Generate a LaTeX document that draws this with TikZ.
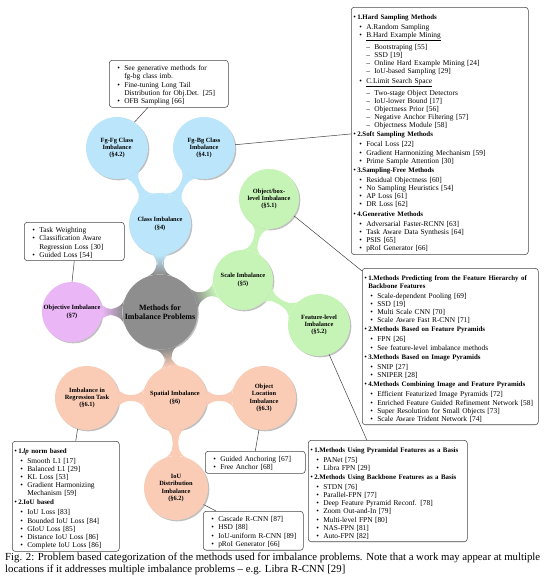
\documentclass[tikz,border=0pt]{standalone}
\usepackage{fontspec}
\setmainfont{Liberation Serif}
\usepackage{tikz}
\usetikzlibrary{mindmap,shadows,positioning,calc}

\definecolor{ctrgray}{RGB}{142,142,142}
\definecolor{clsblue}{RGB}{186,229,250}
\definecolor{sclgreen}{RGB}{198,244,182}
\definecolor{objpurple}{RGB}{234,182,246}
\definecolor{spasalmon}{RGB}{250,204,182}

% list lines inside the boxes
\newcommand{\boxhead}[1]{\par\vspace{1.2pt}\noindent\hangindent=4pt\hangafter=1\makebox[4pt][l]{\textbullet}{\fontsize{6.9}{8.1}\selectfont\bfseries #1}\par\vspace{2pt}}
\newcommand{\boxitem}[1]{\par\noindent\hangindent=13pt\hangafter=1\hspace*{6pt}\makebox[7pt][l]{\textbullet}#1}
\newcommand{\boxsub}[1]{\par\noindent\hangindent=21pt\hangafter=1\hspace*{13pt}\makebox[8pt][l]{--}#1}
\newcommand{\boxgap}{\par\vspace{2pt}}

\tikzset{
  cpt/.style={circle, inner sep=0pt, minimum size=62pt, align=center,
    font=\fontsize{6.4}{7.3}\selectfont\bfseries,
    drop shadow={shadow xshift=1.3pt, shadow yshift=-1.3pt, opacity=0.45, fill=black!55}},
  infobox/.style={draw=black!72, line width=0.55pt, rounded corners=3pt, fill=white,
    inner xsep=2pt, inner ysep=2.5pt, text width=#1, align=left, anchor=north west,
    font=\fontsize{7.4}{8.1}\selectfont},
  conn/.style={draw=black!75, line width=0.5pt}
}

\begin{document}
\begin{tikzpicture}[x=1pt,y=-1pt]
\useasboundingbox (0,0) rectangle (554,581);

% concepts
\node[cpt, fill=ctrgray, minimum size=75pt, font=\fontsize{8}{9}\selectfont\bfseries] (ctr) at (160,312) {Methods for\\Imbalance Problems};
\node[cpt, fill=clsblue] (cls) at (160,224) {Class Imbalance\\(\S4)};
\node[cpt, fill=clsblue] (fgfg) at (117,148) {Fg-Fg Class\\Imbalance\\(\S4.2)};
\node[cpt, fill=clsblue] (fgbg) at (204,148) {Fg-Bg Class\\Imbalance\\(\S4.1)};
\node[cpt, fill=objpurple, minimum size=60pt] (obj) at (72,312) {Objective Imbalance\\(\S7)};
\node[cpt, fill=sclgreen, minimum size=60pt] (scl) at (243,280) {Scale Imbalance\\(\S5)};
\node[cpt, fill=sclgreen, minimum size=60pt] (obox) at (269,199) {Object/box-\\level Imbalance\\(\S5.1)};
\node[cpt, fill=sclgreen] (feat) at (319,325) {Feature-level\\Imbalance\\(\S5.2)};
\node[cpt, fill=spasalmon, minimum size=64pt] (spa) at (175,398) {Spatial Imbalance\\(\S6)};
\node[cpt, fill=spasalmon, minimum size=64pt] (reg) at (87,398) {Imbalance in\\Regression Task\\(\S6.1)};
\node[cpt, fill=spasalmon, minimum size=64pt] (loc) at (264,398) {Object\\Location\\Imbalance\\(\S6.3)};
\node[cpt, fill=spasalmon, minimum size=64pt] (iou) at (176,488) {IoU\\Distribution\\Imbalance\\(\S6.2)};

% bars between concepts
\path (ctr) to[circle connection bar switch color=from (ctrgray) to (clsblue)] (cls);
\path (ctr) to[circle connection bar switch color=from (ctrgray) to (objpurple)] (obj);
\path (ctr) to[circle connection bar switch color=from (ctrgray) to (sclgreen)] (scl);
\path (ctr) to[circle connection bar switch color=from (ctrgray) to (spasalmon)] (spa);
\path (cls) to[circle connection bar switch color=from (clsblue) to (clsblue)] (fgfg);
\path (cls) to[circle connection bar switch color=from (clsblue) to (clsblue)] (fgbg);
\path (scl) to[circle connection bar switch color=from (sclgreen) to (sclgreen)] (obox);
\path (scl) to[circle connection bar switch color=from (sclgreen) to (sclgreen)] (feat);
\path (spa) to[circle connection bar switch color=from (spasalmon) to (spasalmon)] (reg);
\path (spa) to[circle connection bar switch color=from (spasalmon) to (spasalmon)] (loc);
\path (spa) to[circle connection bar switch color=from (spasalmon) to (spasalmon)] (iou);

% method boxes
\node[infobox=115pt] (fgfgbox) at (109,60) {%
  \boxitem{See generative methods for\newline fg-bg class imb.}
  \boxitem{Fine-tuning Long Tail\newline Distribution for Obj.Det. [25]}
  \boxitem{OFB Sampling [66]}};
\node[infobox=173pt] (hardbox) at (351,7) {%
  \boxhead{1.Hard Sampling Methods}
  \boxitem{A.Random Sampling}
  \boxitem{\underline{B.Hard Example Mining}}
  \boxgap
  \boxsub{Bootstraping [55]}
  \boxsub{SSD [19]}
  \boxsub{Online Hard Example Mining [24]}
  \boxsub{IoU-based Sampling [29]}
  \boxgap
  \boxitem{\underline{C.Limit Search Space}}
  \boxgap
  \boxsub{Two-stage Object Detectors}
  \boxsub{IoU-lower Bound [17]}
  \boxsub{Objectness Prior [56]}
  \boxsub{Negative Anchor Filtering [57]}
  \boxsub{Objectness Module [58]}
  \boxhead{2.Soft Sampling Methods}
  \boxitem{Focal Loss [22]}
  \boxitem{Gradient Harmonizing Mechanism [59]}
  \boxitem{Prime Sample Attention [30]}
  \boxhead{3.Sampling-Free Methods}
  \boxitem{Residual Objectness [60]}
  \boxitem{No Sampling Heuristics [54]}
  \boxitem{AP Loss [61]}
  \boxitem{DR Loss [62]}
  \boxhead{4.Generative Methods}
  \boxitem{Adversarial Faster-RCNN [63]}
  \boxitem{Task Aware Data Synthesis [64]}
  \boxitem{PSIS [65]}
  \boxitem{pRoI Generator [66]}};
\node[infobox=96pt] (objbox) at (24,222) {%
  \boxitem{Task Weighting}
  \boxitem{Classification Aware\newline Regression Loss [30]}
  \boxitem{Guided Loss [54]}};
\node[infobox=172pt] (scalebox) at (362,268) {%
  \boxhead{1.Methods Predicting from the Feature Hierarchy of\newline Backbone Features}
  \boxitem{Scale-dependent Pooling [69]}
  \boxitem{SSD [19]}
  \boxitem{Multi Scale CNN [70]}
  \boxitem{Scale Aware Fast R-CNN [71]}
  \boxhead{2.Methods Based on Feature Pyramids}
  \boxitem{FPN [26]}
  \boxitem{See feature-level imbalance methods}
  \boxhead{3.Methods Based on Image Pyramids}
  \boxitem{SNIP [27]}
  \boxitem{SNIPER [28]}
  \boxhead{4.Methods Combining Image and Feature Pyramids}
  \boxitem{Efficient Featurized Image Pyramids [72]}
  \boxitem{Enriched Feature Guided Refinement Network [58]}
  \boxitem{Super Resolution for Small Objects [73]}
  \boxitem{Scale Aware Trident Network [74]}};
\node[infobox=155pt] (featbox) at (308,440) {%
  \boxhead{1.Methods Using Pyramidal Features as a Basis}
  \boxitem{PANet [75]}
  \boxitem{Libra FPN [29]}
  \boxhead{2.Methods Using Backbone Features as a Basis}
  \boxitem{STDN [76]}
  \boxitem{Parallel-FPN [77]}
  \boxitem{Deep Feature Pyramid Reconf. [78]}
  \boxitem{Zoom Out-and-In [79]}
  \boxitem{Multi-level FPN [80]}
  \boxitem{NAS-FPN [81]}
  \boxitem{Auto-FPN [82]}};
\node[infobox=103pt] (regbox) at (12,441) {%
  \boxhead{1.\textit{lp} norm based}
  \boxitem{Smooth L1 [17]}
  \boxitem{Balanced L1 [29]}
  \boxitem{KL Loss [53]}
  \boxitem{Gradient Harmonizing\newline Mechanism [59]}
  \boxhead{2.IoU based}
  \boxitem{IoU Loss [83]}
  \boxitem{Bounded IoU Loss [84]}
  \boxitem{GIoU Loss [85]}
  \boxitem{Distance IoU Loss [86]}
  \boxitem{Complete IoU Loss [86]}};
\node[infobox=96pt] (locbox) at (205,451) {%
  \boxitem{Guided Anchoring [67]}
  \boxitem{Free Anchor [68]}};
\node[infobox=96pt] (ioubox) at (203,511) {%
  \boxitem{Cascade R-CNN [87]}
  \boxitem{HSD [88]}
  \boxitem{IoU-uniform R-CNN [89]}
  \boxitem{pRoI Generator [66]}};

% leader lines
\draw[conn] (fgfg.56) -- ([xshift=-21pt]fgfgbox.south);
\draw[conn] (fgbg.6) -- ([yshift=-3pt]hardbox.west);
\draw[conn] (obox.-34) -- ([yshift=-3pt]scalebox.north west);
\draw[conn] (feat.-71) -- ([xshift=-21pt]featbox.north);
\draw[conn] (objbox.south) -- (obj.north);
\draw[conn] (reg.-107) -- ([xshift=10pt]regbox.north);
\draw[conn] (loc.-99) -- (locbox.north);
\draw[conn] (iou.-31) -- ([xshift=13pt]ioubox.north west);

% caption
\node[anchor=north west, inner sep=0pt, align=left, font=\fontsize{10.8}{12.5}\selectfont] (capt) at (5,552.5)
  {\makebox[535pt][s]{Fig. 2: Problem based categorization of the methods used for imbalance problems. Note that a work may appear at multiple}\\
   locations if it addresses multiple imbalance problems -- e.g. Libra R-CNN [29]};
\end{tikzpicture}
\end{document}
